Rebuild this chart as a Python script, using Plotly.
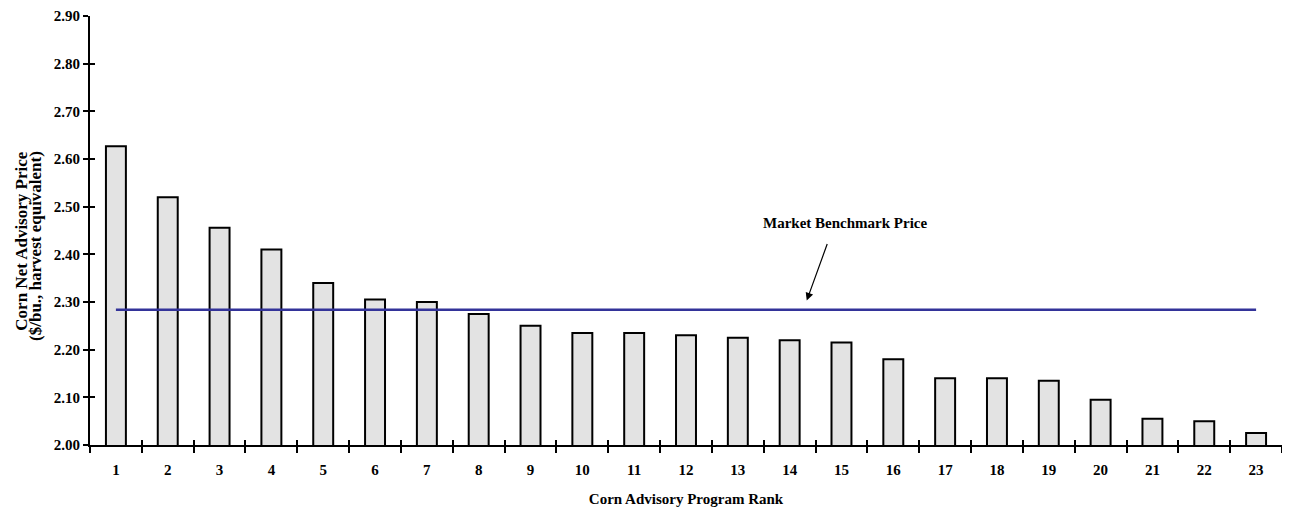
import plotly.graph_objects as go

ranks = [str(i) for i in range(1, 24)]
prices = [2.627, 2.52, 2.456, 2.41, 2.34, 2.305, 2.30, 2.275, 2.25, 2.235, 2.235, 2.23,
          2.225, 2.22, 2.215, 2.18, 2.14, 2.14, 2.135, 2.095, 2.055, 2.05, 2.025]
benchmark = 2.284
benchmark_label = "Market Benchmark Price"
y_title_lines = ["Corn Net Advisory Price", "($/bu., harvest equivalent)"]
y_ticks = [2.0 + 0.1 * i for i in range(10)]

FONT = "Liberation Serif, Times New Roman, serif"

fig = go.Figure()
fig.add_trace(go.Bar(
    x=ranks, y=prices,
    marker=dict(color="#e3e3e3", line=dict(color="black", width=2)),
    showlegend=False, hoverinfo="skip",
))
fig.add_trace(go.Scatter(
    x=ranks, y=[benchmark] * len(ranks), mode="lines",
    line=dict(color="#333399", width=2.5),
    xaxis="x2", yaxis="y2", showlegend=False, hoverinfo="skip",
))

axis_common = dict(showgrid=False, zeroline=False)
fig.update_layout(
    width=1290, height=510,
    margin=dict(l=82, r=16, t=8, b=73),
    plot_bgcolor="white", paper_bgcolor="white",
    bargap=0.615,
    font=dict(family=FONT, size=15, color="black"),
    xaxis=dict(
        type="category", categoryarray=ranks, range=[-0.5, 22.5],
        showline=True, linecolor="black", linewidth=2,
        ticks="outside", ticklen=6, tickwidth=2, tickcolor="black",
        tickson="boundaries", ticklabelstandoff=10,
        tickfont=dict(family=FONT, size=15, weight="bold"),
        title=dict(text="Corn Advisory Program Rank",
                   font=dict(family=FONT, size=15, weight="bold"), standoff=16),
        **axis_common,
    ),
    yaxis=dict(
        range=[2.0, 2.9], tickvals=y_ticks, tickformat=".2f",
        showline=True, linecolor="black", linewidth=2,
        ticks="outside", ticklen=5, tickwidth=2, tickcolor="black",
        ticklabelstandoff=0, ticklabeloverflow="allow", automargin=False,
        tickfont=dict(family=FONT, size=15, weight="bold"),
        **axis_common,
    ),
    xaxis2=dict(
        type="category", categoryarray=ranks, range=[-0.5, 22.5],
        overlaying="x", anchor="y2", matches="x",
        ticks="inside", ticklen=5, tickwidth=2, tickcolor="black",
        tickson="boundaries", showticklabels=False, showline=False,
        **axis_common,
    ),
    yaxis2=dict(
        range=[2.0, 2.9], tickvals=y_ticks, overlaying="y", anchor="x2",
        ticks="inside", ticklen=5, tickwidth=2, tickcolor="black",
        showticklabels=False, showline=False, matches="y",
        **axis_common,
    ),
)

# y-axis title (two lines)
for line_text, yp, xs in zip(y_title_lines, [0.474, 0.464], [-68, -54]):
    fig.add_annotation(
        text=line_text, xref="paper", yref="paper", x=0, y=yp, xshift=xs,
        textangle=-90, showarrow=False, xanchor="center", yanchor="middle",
        font=dict(family=FONT, size=17, weight="bold"),
    )
# label
fig.add_annotation(
    text=benchmark_label, xref="x", yref="y", x=14.07, y=2.465,
    showarrow=False, font=dict(family=FONT, size=15, weight="bold"),
)
# arrow
fig.add_annotation(
    text="", xref="x", yref="y", x=13.33, y=2.303,
    showarrow=True, ax=21, ay=-58, arrowhead=2, arrowsize=1.3,
    arrowwidth=1.2, arrowcolor="black",
)

fig.write_html("out.html")
